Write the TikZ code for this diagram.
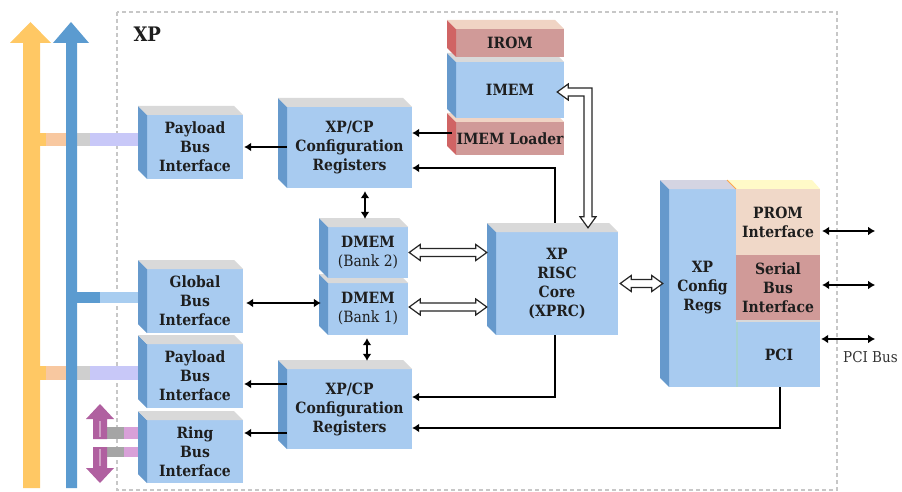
\documentclass[tikz,border=0pt]{standalone}
\usepackage{fontspec}
\setmainfont{DejaVu Serif Condensed}
\usetikzlibrary{arrows.meta,calc}
\definecolor{frontblue}{HTML}{A8CBF0}
\definecolor{sideblue}{HTML}{6699CC}
\definecolor{topgray}{HTML}{D9D9D9}
\definecolor{frontred}{HTML}{D09A98}
\definecolor{sidered}{HTML}{D06464}
\definecolor{topred}{HTML}{F0D4C4}
\definecolor{promfront}{HTML}{F0D8C8}
\definecolor{promtop}{HTML}{FFFAC8}
\definecolor{busyellow}{HTML}{FFC864}
\definecolor{busblue}{HTML}{5B9BD0}
\definecolor{lav}{HTML}{C8C8F8}
\definecolor{peach}{HTML}{F8C8A0}
\definecolor{tapgray}{HTML}{CFCFCF}
\definecolor{lightblue}{HTML}{A8CDF0}
\definecolor{ringpurple}{HTML}{B060A0}
\definecolor{ringpink}{HTML}{D8A0D8}
\definecolor{textdark}{HTML}{1E1E1E}
\newcommand\boxfont{\fontsize{15.5}{19}\selectfont\bfseries}
% #1 name, #2..#5 front face x1,y1,x2,y2, #6 front, #7 side, #8 top, #9 text
\newcommand\blockbox[9]{%
  \node[blk, fill=#6, minimum width={(#4)-(#2)}, minimum height={(#5)-(#3)}] (#1) at ({((#2)+(#4))/2},{((#3)+(#5))/2}) {#9};
  \fill[#7] (#2,#3) -- ++(-9,-9) -- ({(#2)-9},{(#5)-9}) -- (#2,#5) -- cycle;
  \fill[#8] (#2,#3) -- ++(-9,-9) -- ({(#4)-9},{(#3)-9}) -- (#4,#3) -- cycle;
}
% horizontal hollow double arrow between named coordinates #1 (left) and #2 (right)
\newcommand\hollowh[2]{%
  \draw[hollow] (#1) -- ($(#1)+(11,-8)$) -- ($(#1)+(11,-4)$) -- ($(#2|-#1)+(-11,-4)$) -- ($(#2|-#1)+(-11,-8)$)
    -- (#2|-#1) -- ($(#2|-#1)+(-11,8)$) -- ($(#2|-#1)+(-11,4)$) -- ($(#1)+(11,4)$) -- ($(#1)+(11,8)$) -- cycle;
}
\tikzset{
  blk/.style={draw=none, inner sep=0pt, align=center, font=\boxfont, text=textdark},
  conn/.style={line width=2.5pt, -{Latex[length=7pt,width=9pt]}},
  conntwo/.style={line width=2.5pt, {Latex[length=7pt,width=9pt]}-{Latex[length=7pt,width=9pt]}},
  hollow/.style={draw=black!85, fill=white, line width=1.2pt, line join=miter},
}
\begin{document}
\begin{tikzpicture}[x=1pt,y=-1pt]
\useasboundingbox (0,0) rectangle (902,492);
% frame
\draw[black!22, line width=1.5pt, dash pattern=on 4pt off 3pt] (117,12) rectangle (837,490);
\node[font=\fontsize{20}{22}\selectfont\bfseries, anchor=west, text=textdark] (xp) at (130,34) {XP};
% bus taps
\fill[busyellow] (40,133) rectangle (46,146);
\fill[peach] (46,133) rectangle (66,146);
\fill[tapgray] (77,133) rectangle (90,146);
\fill[lav] (90,133) rectangle (146,146);
\fill[busyellow] (40,366) rectangle (46,380);
\fill[peach] (46,366) rectangle (66,380);
\fill[tapgray] (77,366) rectangle (90,380);
\fill[lav] (90,366) rectangle (146,380);
\fill[busblue] (77,292) rectangle (100,303);
\fill[lightblue] (100,292) rectangle (146,303);
% bus arrows
\fill[busyellow] (23,488) -- (23,43) -- (10,43) -- (30.5,22) -- (51,43) -- (40,43) -- (40,488) -- cycle;
\fill[busblue] (66,488) -- (66,43) -- (53,43) -- (71,22) -- (89,43) -- (77,43) -- (77,488) -- cycle;
% ring bus arrows
\fill[tapgray!80!black] (107,427) rectangle (124,439);
\fill[ringpink] (124,427) rectangle (144,439);
\fill[tapgray!80!black] (107,447) rectangle (124,457);
\fill[ringpink] (124,447) rectangle (144,457);
\fill[ringpurple] (93,439) -- (93,419) -- (86,419) -- (100,404) -- (114,419) -- (107,419) -- (107,439) -- cycle;
\fill[ringpurple] (93,447) -- (93,468) -- (86,468) -- (100,483) -- (114,468) -- (107,468) -- (107,447) -- cycle;
\fill[ringpurple!60!white] (99,421) rectangle (101,437);
\fill[ringpurple!60!white] (99,449) rectangle (101,466);
% blue boxes
\blockbox{pbi1}{147}{115}{243}{179}{frontblue}{sideblue}{topgray}{Payload\\Bus\\Interface}
\blockbox{cfg1}{287}{107}{412}{188}{frontblue}{sideblue}{topgray}{XP/CP\\Configuration\\Registers}
\blockbox{dmem1}{328}{283}{408}{335}{frontblue}{sideblue}{topgray}{DMEM\\{\mdseries (Bank 1)}}
\blockbox{dmem2}{328}{227}{408}{278}{frontblue}{sideblue}{topgray}{DMEM\\{\mdseries (Bank 2)}}
\blockbox{gbi}{147}{269}{243}{333}{frontblue}{sideblue}{topgray}{Global\\Bus\\Interface}
\blockbox{pbi2}{147}{344}{243}{408}{frontblue}{sideblue}{topgray}{Payload\\Bus\\Interface}
\blockbox{rbi}{147}{420}{243}{483}{frontblue}{sideblue}{topgray}{Ring\\Bus\\Interface}
\blockbox{cfg2}{287}{369}{412}{449}{frontblue}{sideblue}{topgray}{XP/CP\\Configuration\\Registers}
\blockbox{xprc}{496}{232}{618}{335}{frontblue}{sideblue}{topgray}{XP\\RISC\\Core\\(XPRC)}
% IMEM stack
\blockbox{loader}{456}{122}{564}{155}{frontred}{sidered}{topred}{IMEM Loader}
\blockbox{imem}{456}{62}{564}{118}{frontblue}{sideblue}{topgray}{IMEM}
\blockbox{irom}{456}{29}{564}{57}{frontred}{sidered}{topred}{IROM}
% config regs column
\blockbox{cregs}{669}{189}{736}{387}{frontblue}{sideblue}{topgray!70!lav}{XP\\Config\\Regs}
\fill[promtop] (727,180) -- (812,180) -- (820,189) -- (736,189) -- cycle;
\draw[orange!70, line width=0.8pt] (727,180) -- (736,189);
\node[blk, fill=promfront, minimum width=84, minimum height=66] (prom) at (778,222) {PROM\\Interface};
\node[blk, fill=frontred, minimum width=84, minimum height=65] (serial) at (778,287.5) {Serial\\Bus\\Interface};
\fill[topgray] (736,320) rectangle (820,322);
\fill[teal!35] (736,322) rectangle (738,387);
\node[blk, fill=frontblue, minimum width=82, minimum height=65] (pci) at (779,354.5) {PCI};
% black connectors
\draw[conn] (cfg1.west |- pbi1.east) -- ($(pbi1.east)+(1,0)$);
\draw[conn] ($(loader.west)+(-4,-5.5)$) -- ($(cfg1.east)+(0,-14.5)$);
\draw[conn] ($(xprc.north)+(-2,-9)$) |- ($(cfg1.east)+(0,20.5)$);
\draw[conntwo] ($(cfg1.south)+(15.5,3)$) -- ($(dmem2.north)+(-3,-8)$);
\draw[conntwo] ($(dmem1.south)+(-1,3)$) -- ($(cfg2.north)+(17.5,-8)$);
\draw[conntwo] ($(gbi.east)+(3,2)$) -- ($(dmem1.west)+(-7,-6)$);
\draw[conn] ($(xprc.south)+(-2,0)$) |- ($(cfg2.east)+(0,-12)$);
\draw[conn] ($(pci.south)+(1,0)$) |- ($(cfg2.east)+(0,19)$);
\draw[conn] ($(cfg2.west)+(0,-25)$) -- ($(pbi2.east)+(1,8)$);
\draw[conn] ($(cfg2.west)+(0,24)$) -- ($(rbi.east)+(1,-18.5)$);
% hollow connectors
\coordinate (d2a) at ($(dmem2.east)+(1,0)$);
\coordinate (d2b) at ($(xprc.west)+(-9,-31)$);
\hollowh{d2a}{d2b}
\coordinate (d1a) at ($(dmem1.east)+(1,-2)$);
\coordinate (d1b) at ($(xprc.west)+(-9,23.5)$);
\hollowh{d1a}{d1b}
\coordinate (xa) at ($(xprc.east)+(2,0)$);
\coordinate (xb) at ($(cregs.west)+(-6,-5)$);
\hollowh{xa}{xb}
\coordinate (ia) at ($(imem.east)+(-7,2)$);
\coordinate (ib) at ($(xprc.north)+(31,-4)$);
\draw[hollow] (ia) -- ($(ia)+(11,-8)$) -- ($(ia)+(11,-4)$) -- ($(ib|-ia)+(4,-4)$) -- ($(ib)+(4,-11)$) -- ($(ib)+(8,-11)$)
  -- (ib) -- ($(ib)+(-8,-11)$) -- ($(ib)+(-4,-11)$) -- ($(ib|-ia)+(-4,4)$) -- ($(ia)+(11,4)$) -- ($(ia)+(11,8)$) -- cycle;
% external arrows
\coordinate (promext) at (875,231);
\coordinate (serialext) at (875,285);
\coordinate (pciext) at (875,339);
\draw[conntwo] ($(prom.east)+(2,9)$) -- (promext);
\draw[conntwo] ($(serial.east)+(2,-2.5)$) -- (serialext);
\draw[conntwo] ($(pci.east)+(1,-15.5)$) -- (pciext);
\node[font=\fontsize{15}{18}\selectfont, text=black!80, anchor=west, inner sep=0pt] (pcibus) at (843,357) {PCI Bus};
\end{tikzpicture}
\end{document}
